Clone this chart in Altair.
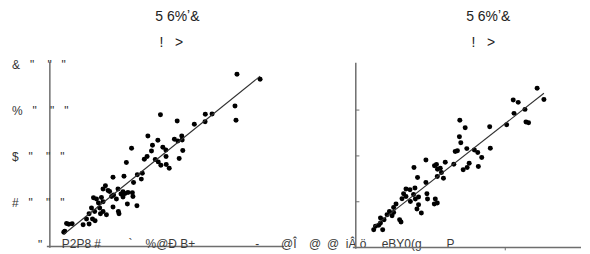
import altair as alt
import pandas as pd

# ---------------- data ----------------
left_x = [93.9, 105.5, 92.9, 93.4, 55.5, 63.9, 78, 81.4, 77.9, 72.5,
          49.2, 54.2, 64.2, 66.4, 66.2, 41, 56.7, 58.2, 51.5, 51,
          66.7, 47.4, 52.9, 54.4, 55.7, 58.4, 59.9, 64.9, 38.4, 43.9,
          46.4, 45.9, 31.7, 37.2, 42, 27.9, 26.7, 29.2, 34.2, 36.7,
          37.7, 35.7, 41.4, 41.7, 21.9, 23.4, 25.9, 24.4, 26.7, 31,
          32, 33.4, 31.7, 38.9, 43.7, 20.9, 19.7, 22.5, 26.7, 25.4,
          34.4, 34.7, 18.4, 21.4, 22.7, 19.7, 8.4, 11.2, 7, 28.4,
          9.5, 7.5, 30, 39.2, 36.7, 25, 16.7, 48.8, 58.3, 62.5]
left_y = [3761, 3652, 3065, 2754, 2876, 2739, 2885, 2891, 2724, 2667,
          2413, 2320, 2304, 2326, 2413, 2146, 2167, 2109, 2211, 2087,
          2094, 1907, 1898, 1848, 1776, 1789, 1711, 1920, 1833, 1565,
          1602, 1472, 1515, 1537, 1398, 1326, 1254, 1224, 1254, 1196,
          1159, 1146, 1174, 1094, 1065, 1037, 1072, 950, 978, 1094,
          1124, 1037, 863, 928, 891, 841, 717, 767, 767, 717,
          767, 717, 602, 602, 565, 493, 506, 500, 311, 696,
          485, 333, 1202, 1181, 1080, 841, 478, 1963, 1963, 2341]

right_x = [91, 94.4, 79, 81.5, 84.9, 79.4, 85.4, 86.7, 75.7, 67.2,
           52.2, 54.9, 52, 52.7, 55.7, 49.9, 51, 59.5, 61.2, 63.2,
           67.5, 56.9, 55.9, 53.9, 61.5, 49.2, 39.5, 40.5, 41, 42.4,
           43, 44.9, 35.2, 29.2, 40.9, 44, 31, 35.2, 25.2, 27.2,
           29.7, 24, 25.2, 23.2, 29, 29.9, 31.5, 35.7, 36, 39.4,
           40.9, 39.9, 27.4, 31.5, 30.7, 32.9, 20.2, 19, 16.9, 15.7,
           18.2, 19, 22, 22.7, 12.4, 14.2, 9.9, 11.5, 13.5, 9, 12.4]
right_y = [3478, 3233, 3218, 3168, 3015, 2928, 2739, 2724, 2681, 2637,
           2776, 2615, 2420, 2289, 2159, 2094, 2115, 2130, 2072, 1963,
           2167, 1841, 1746, 1696, 1767, 1820, 1783, 1811, 1711, 1733,
           1637, 1863, 1913, 1746, 1550, 1515, 1528, 1420, 1276, 1261,
           1298, 1174, 1115, 1065, 1159, 1059, 1102, 1174, 1059, 950,
           972, 1059, 1007, 935, 841, 754, 950, 876, 789, 717,
           696, 767, 609, 559, 646, 609, 463, 485, 391, 391, 537]

y_ticks = [1000, 2000, 3000, 4000]
y_tick_labels = ['#   "    "   "', '$   "    "   "', '%   "    "   "', '&   "    "   "']
y_zero_tick = [0]
y_zero_label = ['"']
right_y_ticks = [1000, 2000, 3000]
right_x_ticks = [75]

title_main = "5 6%\u02bc&"
title_sub = "!   >"

bottom_texts = ["P2P8 #", "`", "%@Ð B+", "-", "@Î", "@", "@", "iÂ ö", "eBY0(g", "P"]
bottom_text_px = [54, 121, 138, 248, 274, 302, 320, 339, 375, 440]  # layout, panel px

# ---------------- layout ----------------
H = 242
PXU = 2.0     # pixels per x unit
PYU = 0.046   # pixels per y unit
TXT = "#333333"
AX = "#6e6e6e"
FONT = "Liberation Sans"


def nb(s):
    return s.replace(" ", "\u00a0")


def panel(xs, ys, w, ox, oy, yt_vals, with_labels, xt_vals, title_cx, sub_cx,
          x_axis_end, extra_text=None):
    xsc = alt.Scale(domain=[-ox / PXU, (w - ox) / PXU], zero=False, nice=False)
    ysc = alt.Scale(domain=[(oy - H) / PYU, oy / PYU], zero=False, nice=False)
    df = pd.DataFrame({"x": xs, "y": ys})
    base = alt.Chart(df)
    pts = base.mark_circle(size=25, color="black", opacity=1).encode(
        x=alt.X("x:Q", scale=xsc, axis=None), y=alt.Y("y:Q", scale=ysc, axis=None))
    reg = base.transform_regression("x", "y").mark_line(color="#303030", strokeWidth=1.1).encode(
        x=alt.X("x:Q", axis=None), y=alt.Y("y:Q", axis=None))
    vdf = pd.DataFrame({"x": [0], "y": [-25], "y2": [4030]})
    yaxis = alt.Chart(vdf).mark_rule(color=AX, strokeWidth=1.5).encode(
        x=alt.X("x:Q", axis=None), y=alt.Y("y:Q", axis=None), y2="y2:Q")
    hdf = pd.DataFrame({"x": [-1.5], "x2": [x_axis_end], "y": [0]})
    xaxis = alt.Chart(hdf).mark_rule(color=AX, strokeWidth=1.5).encode(
        x=alt.X("x:Q", axis=None), x2="x2:Q", y=alt.Y("y:Q", axis=None))
    layers = [pts, yaxis, xaxis]
    if yt_vals:
        tdf = pd.DataFrame({"v": yt_vals, "x": [0] * len(yt_vals), "x2": [1.8] * len(yt_vals)})
        layers.append(alt.Chart(tdf).mark_rule(color=AX, strokeWidth=1).encode(
            x=alt.X("x:Q", axis=None), x2="x2:Q", y=alt.Y("v:Q", axis=None)))
    if xt_vals:
        xdf = pd.DataFrame({"v": xt_vals, "y": [0] * len(xt_vals), "y2": [-60] * len(xt_vals)})
        layers.append(alt.Chart(xdf).mark_rule(color=AX, strokeWidth=1).encode(
            x=alt.X("v:Q", axis=None), y=alt.Y("y:Q", axis=None), y2="y2:Q"))
    if with_labels:
        ldf = pd.DataFrame({"v": y_ticks, "t": [nb(s) for s in y_tick_labels]})
        layers.append(alt.Chart(ldf).mark_text(
            align="left", baseline="middle", fontSize=12, font=FONT,
            color=TXT, dy=2).encode(
            x=alt.value(4), y=alt.Y("v:Q", axis=None), text="t:N"))
        zdf = pd.DataFrame({"v": y_zero_tick, "t": y_zero_label})
        layers.append(alt.Chart(zdf).mark_text(
            align="left", baseline="middle", fontSize=12, font=FONT,
            color=TXT, dy=-2).encode(
            x=alt.value(30), y=alt.Y("v:Q", axis=None), text="t:N"))
    layers.append(reg)
    layers.append(alt.Chart(pd.DataFrame({"t": [nb(title_main)]})).mark_text(
        align="center", baseline="middle", fontSize=14, font=FONT, color="#222").encode(
        x=alt.value(title_cx), y=alt.value(9), text="t:N"))
    layers.append(alt.Chart(pd.DataFrame({"t": [nb(title_sub)]})).mark_text(
        align="center", baseline="middle", fontSize=14, font=FONT, color="#222").encode(
        x=alt.value(sub_cx), y=alt.value(35), text="t:N"))
    if extra_text is not None:
        for t, px in zip(extra_text[0], extra_text[1]):
            layers.append(alt.Chart(pd.DataFrame({"t": [nb(t)]})).mark_text(
                align="left", baseline="alphabetic", fontSize=12, font=FONT,
                color="#3a3a3a").encode(
                x=alt.value(px), y=alt.value(240), text="t:N"))
    return alt.layer(*layers).properties(width=w, height=H)


left = panel(left_x, left_y, 300, 42, 239, [], True, [], 170, 164,
             117.5, (bottom_texts, bottom_text_px))
right = panel(right_x, right_y, 274, 49, 240, right_y_ticks, False, right_x_ticks, 182, 177,
              113)

chart = alt.hconcat(left, right, spacing=0, padding=0, bounds="flush").configure(
    background="white").configure_view(stroke=None)

chart.save("out.html", embed_options={"renderer": "svg", "actions": False})
